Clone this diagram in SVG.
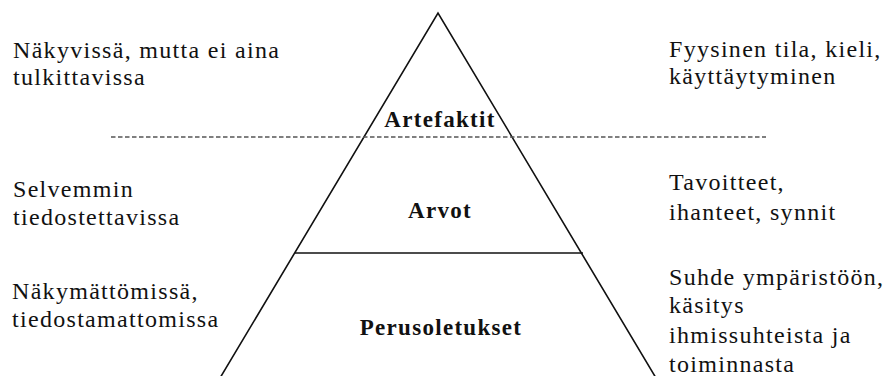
<svg xmlns="http://www.w3.org/2000/svg" width="892" height="376" viewBox="0 0 892 376">
<style>
.t{font-family:"Liberation Serif","DejaVu Serif",serif;font-size:24px;letter-spacing:1.3px;fill:#111}
.b{font-family:"Liberation Serif","DejaVu Serif",serif;font-size:23px;letter-spacing:1.3px;font-weight:bold;fill:#111;text-anchor:middle}
.ln{stroke:#111;stroke-width:1.6;fill:none}
</style>
<rect width="892" height="376" fill="#fff"/>
<g id="connectors">
<path class="ln" d="M220 378 L438 13 L656 378"/>
<line class="ln" x1="295" y1="253" x2="583" y2="253"/>
<line x1="111" y1="137" x2="766" y2="137" stroke="#555" stroke-width="1.6" stroke-dasharray="4.5 2.5"/>
</g>
<g id="artefaktit"><text class="b" x="440" y="127">Artefaktit</text></g>
<g id="arvot"><text class="b" x="440" y="218">Arvot</text></g>
<g id="perusoletukset"><text class="b" x="441" y="335">Perusoletukset</text></g>
<g id="left-top"><text class="t" x="13" y="58">Näkyvissä, mutta ei aina</text><text class="t" x="13" y="85">tulkittavissa</text></g>
<g id="left-mid"><text class="t" x="13" y="197">Selvemmin</text><text class="t" x="13" y="225">tiedostettavissa</text></g>
<g id="left-bot"><text class="t" x="12" y="299">Näkymättömissä,</text><text class="t" x="12" y="327">tiedostamattomissa</text></g>
<g id="right-top"><text class="t" x="669" y="57">Fyysinen tila, kieli,</text><text class="t" x="669" y="84">käyttäytyminen</text></g>
<g id="right-mid"><text class="t" x="669" y="190">Tavoitteet,</text><text class="t" x="669" y="220">ihanteet, synnit</text></g>
<g id="right-bot"><text class="t" x="669" y="285">Suhde ympäristöön,</text><text class="t" x="669" y="313">käsitys</text><text class="t" x="669" y="343">ihmissuhteista ja</text><text class="t" x="669" y="372">toiminnasta</text></g>
</svg>
